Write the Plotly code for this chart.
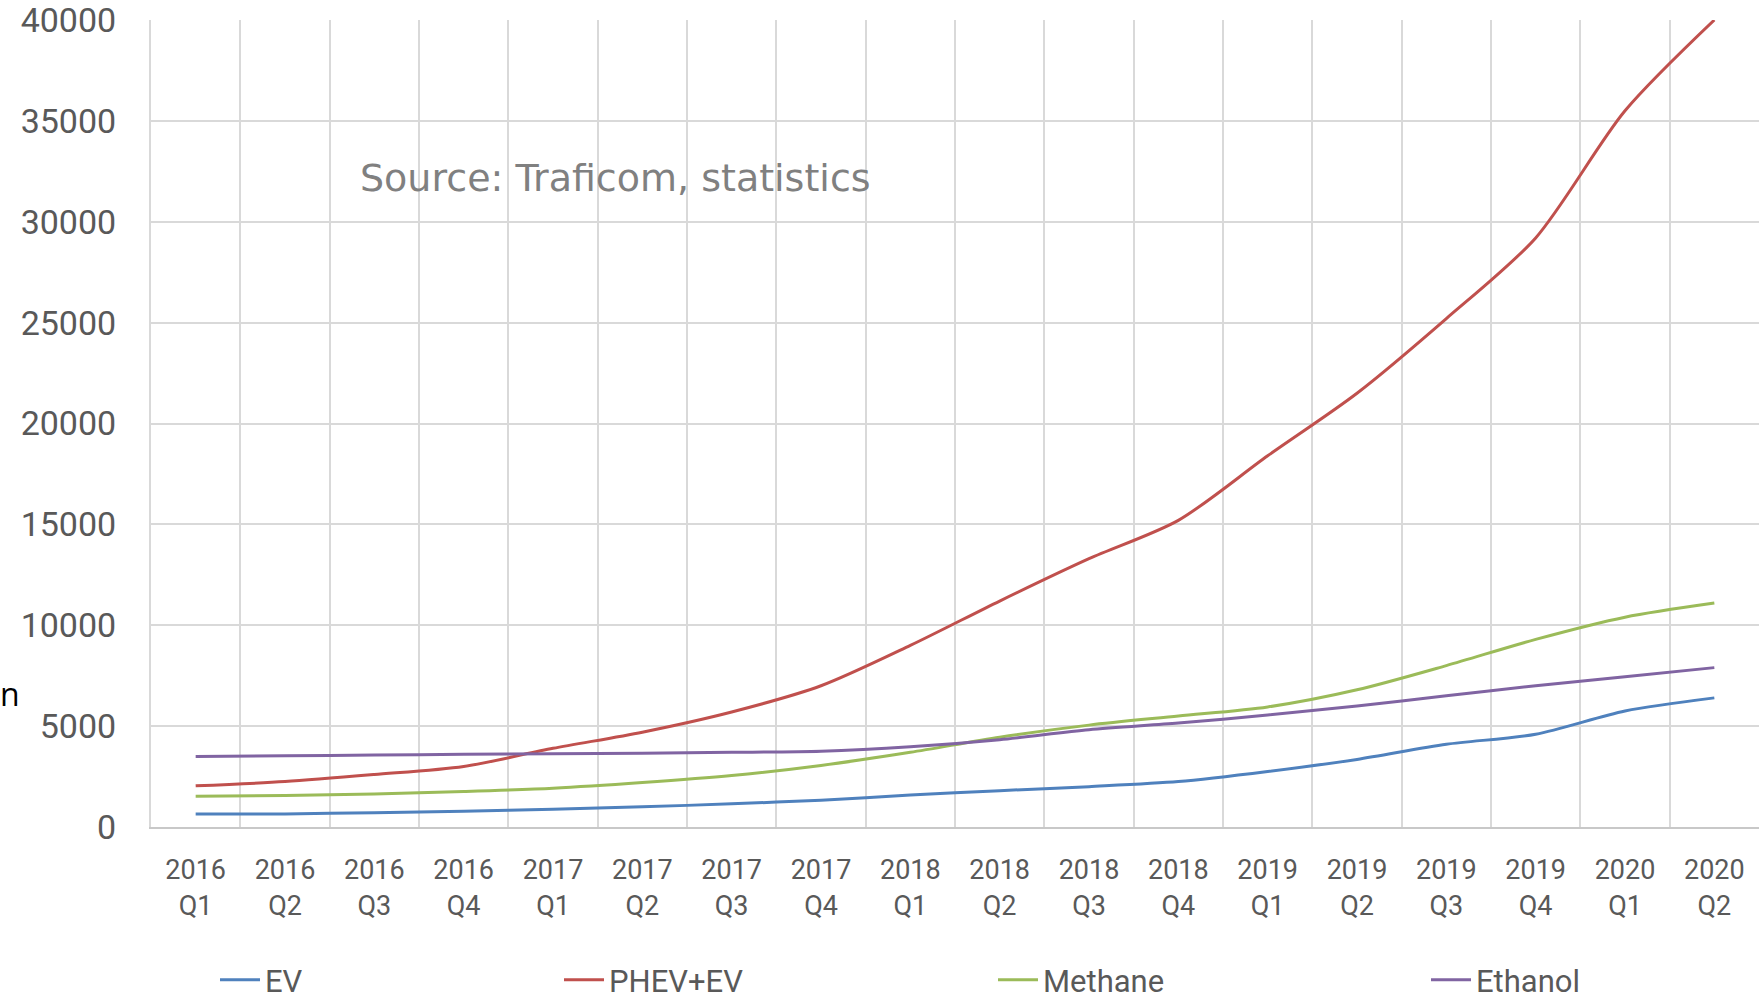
import plotly.graph_objects as go

categories = ["2016<br>Q1", "2016<br>Q2", "2016<br>Q3", "2016<br>Q4",
              "2017<br>Q1", "2017<br>Q2", "2017<br>Q3", "2017<br>Q4",
              "2018<br>Q1", "2018<br>Q2", "2018<br>Q3", "2018<br>Q4",
              "2019<br>Q1", "2019<br>Q2", "2019<br>Q3", "2019<br>Q4",
              "2020<br>Q1", "2020<br>Q2"]

ev = [640, 650, 710, 780, 880, 1000, 1150, 1330, 1580, 1800, 2000, 2250,
      2750, 3350, 4100, 4600, 5750, 6400]
phev_ev = [2040, 2250, 2600, 3000, 3900, 4700, 5700, 7000, 9000, 11200, 13300, 15200,
           18400, 21500, 25200, 29200, 35500, 40000]
methane = [1520, 1560, 1640, 1760, 1920, 2200, 2550, 3050, 3700, 4450, 5050, 5500,
           5950, 6800, 8000, 9300, 10400, 11100]
ethanol = [3500, 3530, 3570, 3600, 3630, 3660, 3700, 3760, 3980, 4330, 4820, 5150,
           5550, 6000, 6500, 7000, 7450, 7900]

series = [("EV", ev, "#4F81BD", "legend"),
          ("PHEV+EV", phev_ev, "#C0504D", "legend2"),
          ("Methane", methane, "#9BBB59", "legend3"),
          ("Ethanol", ethanol, "#8064A2", "legend4")]

y_ticks = [0, 5000, 10000, 15000, 20000, 25000, 30000, 35000, 40000]

FONT = "Roboto, sans-serif"

fig = go.Figure()
for name, vals, color, lg in series:
    fig.add_trace(go.Scatter(
        x=categories, y=vals, name=name, mode="lines",
        line=dict(color=color, width=3, shape="spline", smoothing=0.8),
        legend=lg, cliponaxis=False,
    ))

W, H = 1759, 1000
L, R, T, B = 151, 0, 20, 173
pw = W - L - R
ph = H - T - B

def px_x(p):
    return (p - L) / pw

def px_y(p):
    return (H - B - p) / ph

legend_style = dict(orientation="h", xanchor="left", yanchor="middle",
                    font=dict(family=FONT, size=31, color="#595959"),
                    bgcolor="rgba(0,0,0,0)", itemwidth=40, tracegroupgap=0)

LY = 980

fig.update_layout(
    width=W, height=H,
    margin=dict(l=L, r=R, t=T, b=B, pad=0, autoexpand=False),
    plot_bgcolor="white", paper_bgcolor="white",
    showlegend=True,
    legend=dict(x=px_x(215), y=px_y(LY), **legend_style),
    legend2=dict(x=px_x(559), y=px_y(LY), **legend_style),
    legend3=dict(x=px_x(993), y=px_y(LY), **legend_style),
    legend4=dict(x=px_x(1426), y=px_y(LY), **legend_style),
    xaxis=dict(
        type="category", range=[-0.5, 17.5], tickson="boundaries",
        showgrid=True, gridcolor="#d9d9d9", gridwidth=2,
        ticks="", ticklabelstandoff=18,
        tickfont=dict(family=FONT, size=27, color="#595959"),
        showline=True, linecolor="#c8c8c8", linewidth=2,
        zeroline=False, automargin=False,
    ),
    yaxis=dict(
        range=[0, 40000], tickvals=y_ticks, ticktext=[str(v) for v in y_ticks],
        showgrid=True, gridcolor="#d9d9d9", gridwidth=2,
        ticks="outside", ticklen=26, tickcolor="rgba(0,0,0,0)",
        tickfont=dict(family=FONT, size=34, color="#595959"),
        ticklabeloverflow="allow",
        showline=True, linecolor="#d9d9d9", linewidth=2,
        zeroline=False, automargin=False,
    ),
    annotations=[
        dict(text="Source: Traficom, statistics", xref="paper", yref="paper",
             x=px_x(358), y=px_y(178), xanchor="left", yanchor="middle",
             showarrow=False,
             font=dict(family="DejaVu Sans", size=38, color="#808080")),
        dict(text="n", xref="paper", yref="paper",
             x=px_x(-2), y=px_y(693), xanchor="left", yanchor="middle",
             showarrow=False,
             font=dict(family="Open Sans", size=32, color="#000000")),
    ],
)

fig.write_html("out.html")
